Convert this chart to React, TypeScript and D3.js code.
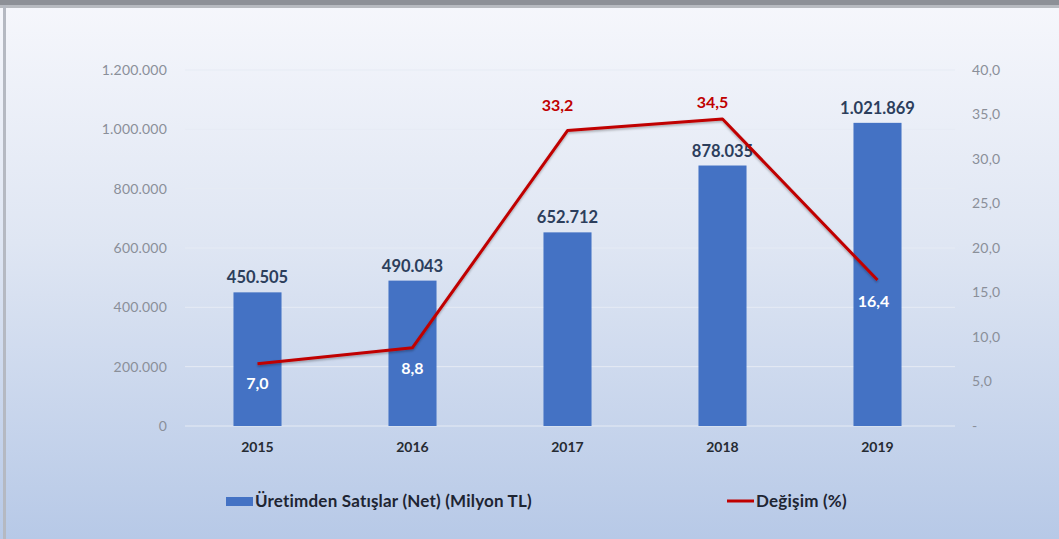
import React from "react";
import * as d3 from "d3";

const years = ["2015", "2016", "2017", "2018", "2019"];
const sales = [450505, 490043, 652712, 878035, 1021869];
const change = [7.0, 8.8, 33.2, 34.5, 16.4];
const leftTicks = [0, 200000, 400000, 600000, 800000, 1000000, 1200000];
const rightTicks = [0, 5, 10, 15, 20, 25, 30, 35, 40];
const salesLabel = "Üretimden Satışlar (Net) (Milyon TL)";
const changeLabel = "Değişim (%)";

const W = 1059, H = 539;
const FONT = "Lato, 'Open Sans', sans-serif";

const fmtThousands = (v: number) => (v === 0 ? "0" : d3.format(",")(v).replace(/,/g, "."));
const fmtDec = (v: number) => v.toFixed(1).replace(".", ",");

// label placement for the change series (styling, not data)
const changeLabelOffset: [number, number][] = [
  [0, 25],
  [0, 26],
  [-10, -20],
  [-10, -11],
  [-4, 27],
];
const changeInside = [true, true, false, false, true];

export default function App() {
  const x = d3.scaleBand<string>().domain(years).range([180, 955]).paddingInner(0.69).paddingOuter(0.345);
  const yL = d3.scaleLinear().domain([0, 1200000]).range([426, 70]);
  const yR = d3.scaleLinear().domain([0, 40]).range([426, 70]);
  const cx = (i: number) => x(years[i])! + x.bandwidth() / 2;
  const line = d3.line<number>().x((_, i) => cx(i)).y((d) => yR(d));

  return (
    <svg width={W} height={H} style={{ position: "absolute", left: 0, top: 0, fontFamily: FONT }}>
      <defs>
        <linearGradient id="bg" x1="0" y1="0" x2="0" y2="1">
          <stop offset="0" stopColor="#f6f7fc" />
          <stop offset="0.45" stopColor="#dfe6f3" />
          <stop offset="1" stopColor="#b7c9e7" />
        </linearGradient>
        <filter id="sh" x="-10%" y="-10%" width="120%" height="130%">
          <feDropShadow dx="0" dy="1.5" stdDeviation="1" floodColor="#000" floodOpacity="0.3" />
        </filter>
      </defs>
      <rect x={0} y={0} width={W} height={H} fill="url(#bg)" />
      <rect x={0} y={0} width={W} height={6} fill="#8d9097" />
      <rect x={0} y={5} width={W} height={3} fill="#b7bac0" />
      <rect x={3} y={5} width={3} height={H} fill="#b5b9c2" />
      {leftTicks.map((t) => (
        <g key={t}>
          <line x1={185} x2={955} y1={yL(t)} y2={yL(t)} stroke="#e6ebf4" strokeWidth={1} />
          <text x={167} y={yL(t)} dy="0.35em" textAnchor="end" fontSize={14} letterSpacing={0.2} fill="#8a8f99">
            {fmtThousands(t)}
          </text>
        </g>
      ))}
      {rightTicks.map((t) => (
        <text key={t} x={972} y={yR(t)} dy="0.35em" textAnchor="start" fontSize={14} letterSpacing={0.2} fill="#8a8f99">
          {t === 0 ? "-" : fmtDec(t)}
        </text>
      ))}
      {years.map((yr, i) => (
        <g key={yr}>
          <rect x={x(yr)} y={yL(sales[i])} width={x.bandwidth()} height={yL(0) - yL(sales[i])} fill="#4472c4" />
          <text x={cx(i)} y={yL(sales[i]) - 9} textAnchor="middle" fontSize={16.5} fontWeight={700} fill="#2c3e5c">
            {fmtThousands(sales[i])}
          </text>
          <text x={cx(i)} y={452} textAnchor="middle" fontSize={14} fontWeight={700} fill="#262b33">
            {yr}
          </text>
        </g>
      ))}
      <path d={line(change)!} fill="none" stroke="#c00000" strokeWidth={3} filter="url(#sh)" strokeLinejoin="round" />
      {years.map((yr, i) => (
        <text
          key={"c" + yr}
          x={cx(i) + changeLabelOffset[i][0]}
          y={yR(change[i]) + changeLabelOffset[i][1]}
          textAnchor="middle"
          fontSize={16}
          fontWeight={700}
          fill={changeInside[i] ? "#ffffff" : "#c00000"}
        >
          {fmtDec(change[i])}
        </text>
      ))}
      <rect x={226} y={497} width={27} height={9} fill="#4472c4" />
      <text x={255} y={507} fontSize={17} fontWeight={700} letterSpacing={0.2} fill="#1e2533">{salesLabel}</text>
      <line x1={727} x2={754} y1={501} y2={501} stroke="#c00000" strokeWidth={3} />
      <text x={756} y={507} fontSize={17} fontWeight={700} letterSpacing={0.2} fill="#1e2533">{changeLabel}</text>
    </svg>
  );
}
